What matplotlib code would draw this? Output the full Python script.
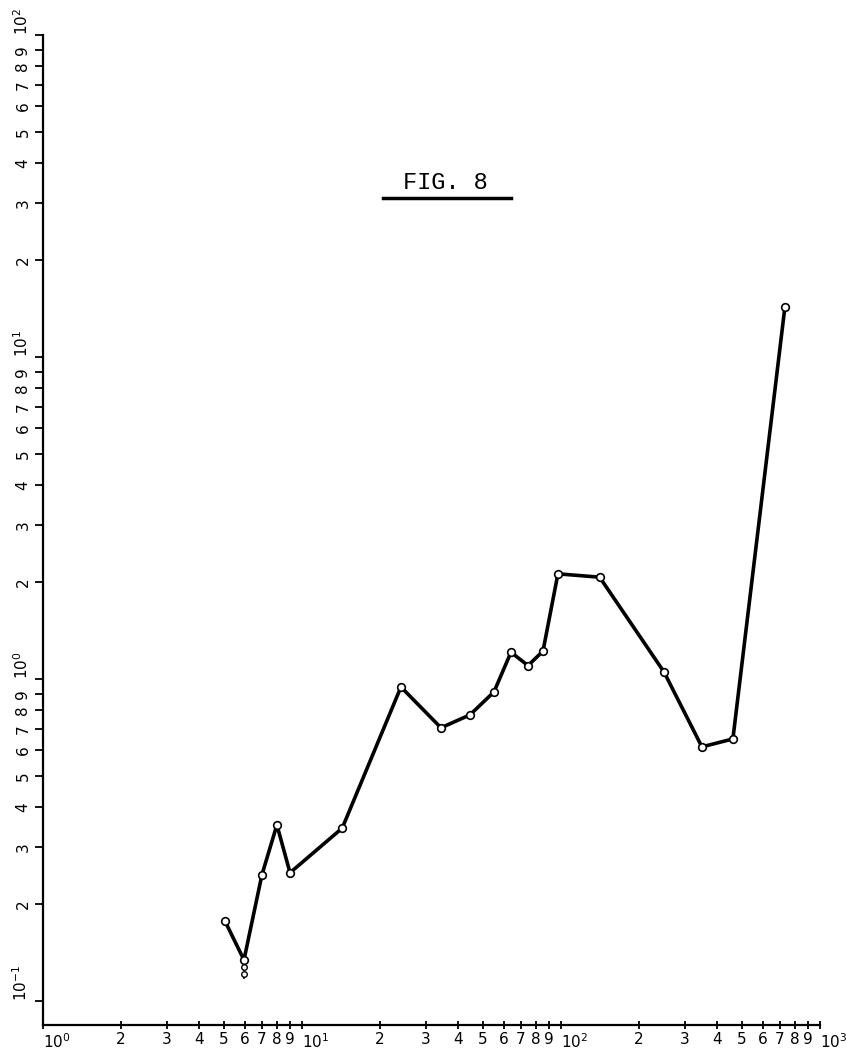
import matplotlib
matplotlib.use("Agg")
import matplotlib.pyplot as plt
from matplotlib.ticker import FixedLocator, FixedFormatter
import numpy as np

# data
x_vals = [5.04, 5.97, 7.0, 8.0, 8.99, 14.3, 24.1, 34.4, 44.5, 55.1, 64.1, 74.6, 85.2,
          97.3, 141, 250, 350, 461, 732]
y_vals = [0.177, 0.134, 0.246, 0.352, 0.25, 0.344, 0.944, 0.705, 0.773, 0.911, 1.21,
          1.10, 1.22, 2.12, 2.07, 1.05, 0.615, 0.651, 14.3]
# extra stacked points at the dip
extra_x = [5.97, 5.97]
extra_y = [0.127, 0.121]

title = "FIG. 8"
x_decades = [1, 10, 100, 1000]
x_major_labels = [r"$10^{0}$", r"$10^{1}$", r"$10^{2}$", r"$10^{3}$"]
y_decades = [0.1, 1, 10, 100]
y_major_labels = [r"$10^{-1}$", r"$10^{0}$", r"$10^{1}$", r"$10^{2}$"]
minor_digits = [2, 3, 4, 5, 6, 7, 8, 9]

fig = plt.figure(figsize=(8.46, 10.49), dpi=100)
ax = fig.add_axes([43/846, 1 - 1025/1049, (820-43)/846, (1025-35)/1049])
ax.set_xscale("log")
ax.set_yscale("log")
ax.set_xlim(1, 1000)
ax.set_ylim(10**(-1.075), 100)

ax.plot(x_vals, y_vals, color="black", lw=2.6, marker="o", ms=5.5,
        mfc="white", mec="black", mew=1.2, zorder=3)
ax.plot(extra_x, extra_y, ls="none", marker="o", ms=4, mfc="white", mec="black",
        mew=1.0, zorder=4)
ax.plot([5.97, 5.97], [0.134, 0.116], color="black", lw=1.5, ls=(0, (1, 1)), zorder=2)

for s in ["top", "right"]:
    ax.spines[s].set_visible(False)
for s in ["left", "bottom"]:
    ax.spines[s].set_linewidth(1.6)

def tick_setup(axis, decades, maj_labels):
    minors = []
    minor_labels = []
    for d in decades[:-1]:
        for m in minor_digits:
            minors.append(d * m)
            minor_labels.append(str(m))
    axis.set_major_locator(FixedLocator(decades))
    axis.set_major_formatter(FixedFormatter(maj_labels))
    axis.set_minor_locator(FixedLocator(minors))
    axis.set_minor_formatter(FixedFormatter(minor_labels))

tick_setup(ax.xaxis, x_decades, x_major_labels)
tick_setup(ax.yaxis, y_decades, y_major_labels)

ax.tick_params(axis="x", which="both", direction="inout", length=6, width=1.3,
               labelsize=11, pad=2)
ax.tick_params(axis="y", which="both", direction="out", length=6, width=1.3,
               labelsize=11, pad=3)
for lab in ax.get_yticklabels(which="minor"):
    lab.set_rotation(90)
    lab.set_va("center")
for lab in ax.get_yticklabels(which="major"):
    lab.set_rotation(90)
    lab.set_va("bottom")
for lab in ax.get_xticklabels(which="major"):
    lab.set_ha("left")

fig.text(445/846, 1 - 183/1049, title, family="Liberation Mono", fontsize=17,
         ha="center", va="center", color="black")
fig.add_artist(plt.Line2D([383/846, 511/846], [1 - 198/1049, 1 - 198/1049],
                          color="black", lw=2.5, transform=fig.transFigure))

fig.savefig("out.png", dpi=100)
